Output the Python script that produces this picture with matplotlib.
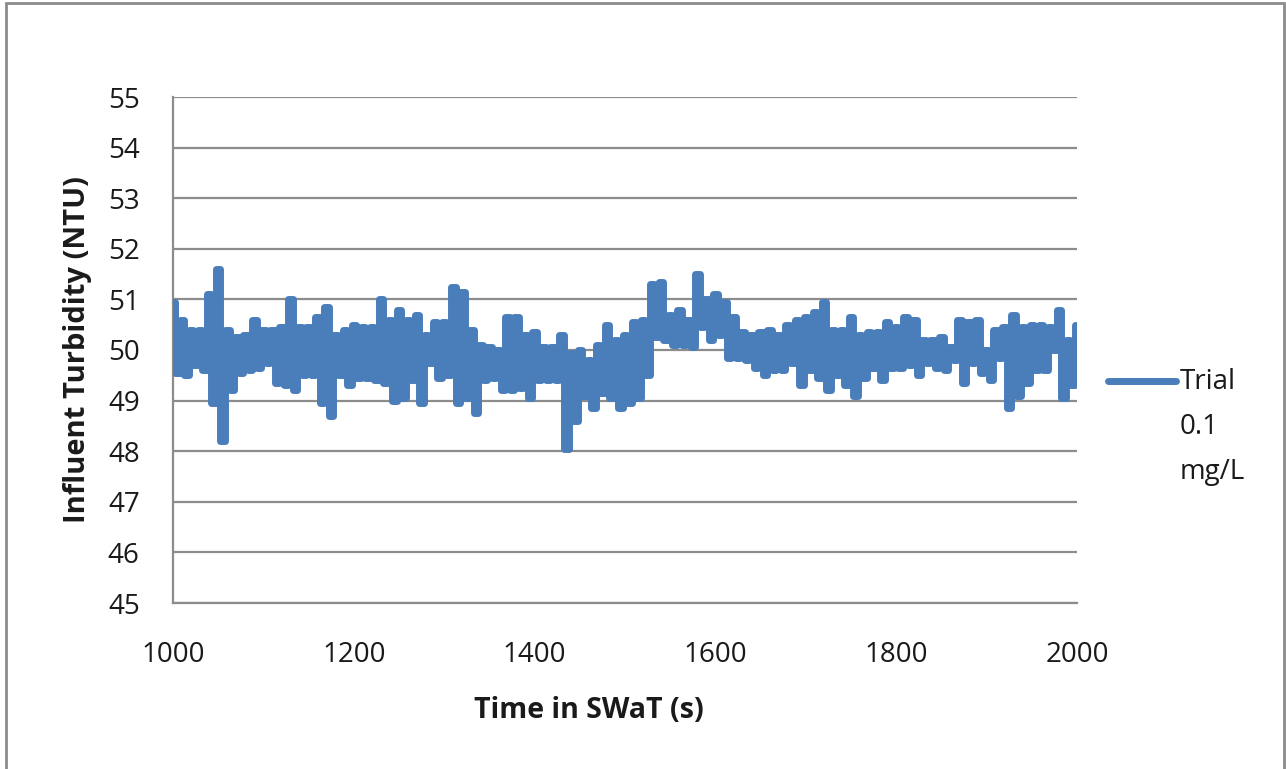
import numpy as np
import matplotlib
matplotlib.use("Agg")
import matplotlib.pyplot as plt
from matplotlib.patches import Rectangle
from matplotlib.lines import Line2D

# ---- data (5 s spacing, alternating peaks/troughs) ----
time_s = np.arange(1000, 2001, 5)
turbidity = [
    50.95, 49.55, 50.6, 49.5, 50.4, 49.7, 50.4, 49.6, 51.1, 48.95,
    51.6, 48.2, 50.4, 49.2, 50.25, 49.55, 50.3, 49.6, 50.6, 49.65,
    50.4, 49.75, 50.4, 49.35, 50.45, 49.3, 51.0, 49.2, 50.45, 49.5,
    50.45, 49.5, 50.65, 48.95, 50.85, 48.7, 50.3, 49.5, 50.4, 49.3,
    50.5, 49.45, 50.45, 49.45, 50.45, 49.4, 51.0, 49.35, 50.6, 49.0,
    50.8, 49.05, 50.6, 49.4, 50.7, 48.95, 50.3, 49.75, 50.55, 49.45,
    50.55, 49.5, 51.25, 48.95, 51.15, 49.05, 50.4, 48.75, 50.1, 49.4,
    50.05, 49.45, 50.0, 49.2, 50.65, 49.2, 50.65, 49.25, 50.3, 49.05,
    50.35, 49.4, 50.05, 49.4, 50.05, 49.4, 50.3, 48.05, 49.95, 48.6,
    50.0, 49.1, 49.8, 48.85, 50.1, 49.15, 50.5, 49.05, 50.2, 48.85,
    50.3, 48.95, 50.55, 49.05, 50.6, 49.5, 51.3, 50.25, 51.35, 50.2,
    50.7, 50.1, 50.8, 50.1, 50.6, 50.05, 51.5, 50.45, 51.0, 50.2,
    51.1, 50.3, 50.95, 49.85, 50.65, 49.85, 50.35, 49.8, 50.3, 49.65,
    50.35, 49.5, 50.4, 49.6, 50.3, 49.6, 50.5, 49.75, 50.6, 49.3,
    50.65, 49.6, 50.75, 49.45, 50.95, 49.2, 50.4, 49.5, 50.4, 49.3,
    50.65, 49.1, 50.3, 49.45, 50.35, 49.65, 50.35, 49.4, 50.55, 49.65,
    50.45, 49.65, 50.65, 49.7, 50.6, 49.5, 50.2, 49.75, 50.2, 49.65,
    50.25, 49.6, 50.05, 49.8, 50.6, 49.35, 50.55, 49.75, 50.6, 49.55,
    50.0, 49.4, 50.4, 49.85, 50.45, 48.85, 50.7, 49.1, 50.45, 49.35,
    50.5, 49.6, 50.5, 49.6, 50.45, 50.0, 50.8, 49.05, 50.2, 49.3,
    50.5,
]
series_label = ["Trial", "0.1", "mg/L"]
x_ticks = [1000, 1200, 1400, 1600, 1800, 2000]
y_ticks = list(range(45, 56))

# ---- style ----
W, H = 1286, 769
plt.rcParams['font.family'] = ['Open Sans', 'DejaVu Sans']
line_color = '#4A7EBB'
grid_color = '#8C8C8C'
text_color = '#1A1A1A'

fig = plt.figure(figsize=(W / 100, H / 100), dpi=100)
ax = fig.add_axes([173 / W, 1 - 603 / H, (1077 - 173) / W, (603 - 97) / H])

ax.plot(time_s, turbidity, color=line_color, lw=5.0, drawstyle='steps-mid',
        solid_joinstyle='round', solid_capstyle='round', zorder=3)

ax.set_xlim(1000, 2000)
ax.set_ylim(45, 55)
ax.set_xticks(x_ticks)
ax.set_yticks(y_ticks)
ax.tick_params(length=0, labelsize=20, colors=text_color)
ax.tick_params(axis='y', pad=24)
ax.tick_params(axis='x', pad=27)
ax.grid(axis='y', color=grid_color, lw=1.6, zorder=1)
for side in ['top', 'right']:
    ax.spines[side].set_visible(False)
for side in ['left', 'bottom']:
    ax.spines[side].set_color(grid_color)
    ax.spines[side].set_linewidth(1.6)

ax.set_xlabel("Time in SWaT (s)", fontsize=20.5, fontweight='bold', color=text_color)
ax.xaxis.set_label_coords((589 - 173) / 904, (603 - 710) / 506)
ax.xaxis.label.set_va('center')
ax.set_ylabel("Influent Turbidity (NTU)", fontsize=21, fontweight='bold', color=text_color)
ax.yaxis.set_label_coords((78 - 173) / 904, 0.5)
ax.yaxis.label.set_va('center')

# legend: line sample + three text lines
fig.add_artist(Line2D([1108 / W, 1176 / W], [1 - 381 / H, 1 - 381 / H],
                      transform=fig.transFigure, color=line_color, lw=5.0,
                      solid_capstyle='round'))
for i, txt in enumerate(series_label):
    fig.text(1180 / W, 1 - (382 + 45 * i) / H, txt, fontsize=20,
             color=text_color, ha='left', va='center')

# outer chart border
fig.add_artist(Rectangle((6 / W, -0.01), (1284 - 6) / W, 1 - 3 / H + 0.01,
                         transform=fig.transFigure, fill=False,
                         edgecolor='#8C8C8C', lw=2))

fig.savefig("out.png", dpi=100)
